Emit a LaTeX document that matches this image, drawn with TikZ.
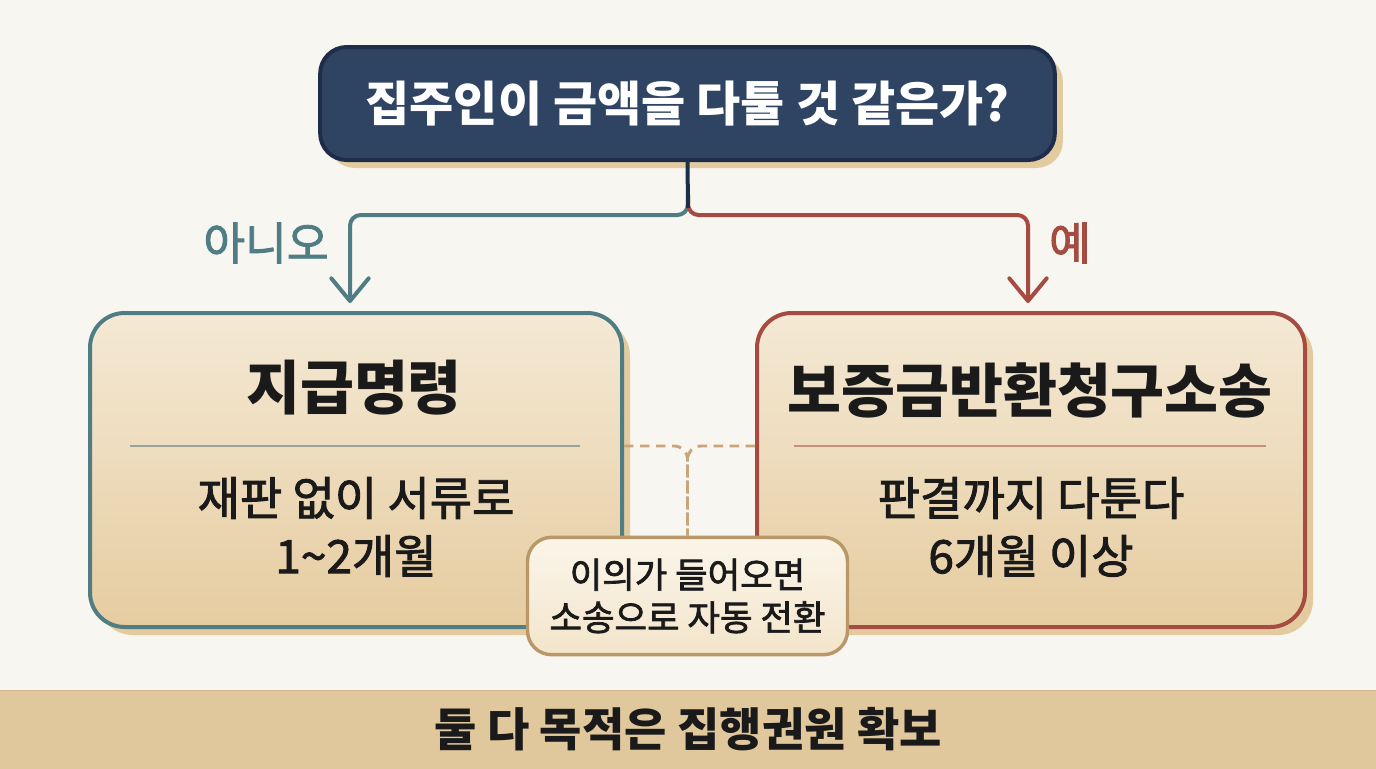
\documentclass[tikz,border=0pt]{standalone}
\usepackage{fontspec}
\setmainfont{Noto Sans CJK KR}
\newfontfamily\krmed[FakeBold=2]{Noto Sans CJK KR}
\usetikzlibrary{arrows.meta,shadows,calc}
\definecolor{bg}{HTML}{F8F6F0}
\definecolor{navy}{HTML}{2F4463}
\definecolor{navyline}{HTML}{1E2E4A}
\definecolor{shade}{HTML}{E3CB9F}
\definecolor{tealc}{HTML}{507C84}
\definecolor{redc}{HTML}{A54B42}
\definecolor{tealdiv}{HTML}{94A59E}
\definecolor{reddiv}{HTML}{C98F7A}
\definecolor{boxtop}{HTML}{F4E9D5}
\definecolor{boxbot}{HTML}{E6CCA0}
\definecolor{dashc}{HTML}{C9A57A}
\definecolor{notebd}{HTML}{B89868}
\definecolor{notetop}{HTML}{FBF5EA}
\definecolor{notebot}{HTML}{F3E5CB}
\definecolor{band}{HTML}{E0C79C}
\definecolor{bandline}{HTML}{D4BA8E}
\definecolor{ink}{HTML}{1A1A1A}
\tikzset{
  shad/.style={drop shadow={shadow xshift=6pt, shadow yshift=-6pt, fill=shade, opacity=1}},
  bigbox/.style={draw, line width=3pt, rounded corners=26pt, top color=boxtop, bottom color=boxbot, shad},
  branch/.style={line width=3pt, rounded corners=8pt, line cap=round, line join=round,
     -{Straight Barb[length=17pt,width=28pt,line cap=round,line join=round]}},
  ttl/.style={font=\bfseries\fontsize{44}{48}\selectfont, text=ink},
  body/.style={font=\krmed\fontsize{34.5}{43.5}\selectfont, text=ink, align=center},
  lbl/.style={font=\krmed\fontsize{34}{38}\selectfont},
  divline/.style={line width=1.6pt}
}
\begin{document}
\begin{tikzpicture}[x=0.75pt,y=-0.75pt]
\fill[bg] (0,0) rectangle (1376,768);
\useasboundingbox (0,0) rectangle (1376,768);

% boxes
\node[bigbox, draw=tealc, minimum width=399pt, minimum height=235.5pt] (l) at (356,470) {};
\node[bigbox, draw=redc, minimum width=411pt, minimum height=235.5pt] (r) at (1031,470) {};

% top question
\node[draw=navyline, fill=navy, line width=3pt, rounded corners=20pt, shad,
      minimum width=551pt, minimum height=84.75pt, text=white,
      font=\bfseries\fontsize{36}{40}\selectfont] (q) at (687.5,103.5) {집주인이 금액을 다툴 것 같은가?};

% branch coordinates
\coordinate (fk) at (688,195);
\coordinate (fy) at (688,215);
\coordinate (la) at ($(l.north)+(-6,-8)$);
\coordinate (ra) at ($(r.north)+(-3,-8)$);
\draw[branch, draw=tealc] (fk) |- (la |- fy) -- (la);
\draw[branch, draw=redc] (fk) |- (ra |- fy) -- (ra);
\draw[line width=3pt, draw=navyline] (q.south) -- (688,208);

\node[lbl, text=tealc] (no) at (266,243) {아니오};
\node[lbl, text=redc] (yes) at (1070,243) {예};

% left content
\node[ttl] (lt) at (354,388) {지급명령};
\coordinate (ld) at (356,446);
\draw[divline, tealdiv] ($(ld)+(-226,0)$) -- ($(ld)+(224,0)$);
\node[body] (lb) at (356,527) {재판 없이 서류로\\1\textasciitilde 2개월};

% right content
\node[ttl] (rt) at (1030,390) {보증금반환청구소송};
\coordinate (rd) at (1031,446);
\draw[divline, reddiv] ($(rd)+(-237,0)$) -- ($(rd)+(235,0)$);
\node[body] (rb) at (1031,527) {판결까지 다툰다\\6개월 이상};

% note
\node[draw=notebd, line width=2.6pt, rounded corners=18pt, top color=notetop, bottom color=notebot,
      minimum width=240pt, minimum height=88pt, font=\krmed\fontsize{26.5}{32}\selectfont, text=ink, align=center]
      (n) at (687.5,596) {이의가 들어오면\\소송으로 자동 전환};

% dashed links
\draw[dashc, line width=2.2pt, dash pattern=on 7pt off 5pt, rounded corners=10pt] (l.east |- ld) -| (n.north);
\draw[dashc, line width=2.2pt, dash pattern=on 7pt off 5pt, rounded corners=10pt] (r.west |- rd) -| (n.north);

% bottom band
\node[fill=band, minimum width=1034pt, minimum height=58.5pt, inner sep=0pt,
      font=\bfseries\fontsize{34.5}{38}\selectfont, text=ink] (b) at (688,729.5) {둘 다 목적은 집행권원 확보};
\draw[bandline, line width=1pt] (b.north west) -- (b.north east);
\end{tikzpicture}
\end{document}
